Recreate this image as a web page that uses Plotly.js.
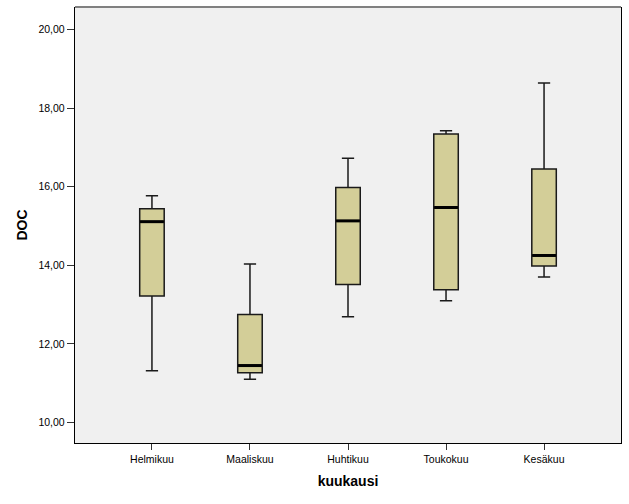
<!DOCTYPE html>
<html>
<head>
<meta charset="utf-8">
<script src="https://cdn.plot.ly/plotly-3.0.1.min.js"></script>
<style>html,body{margin:0;padding:0;background:#fff;}#chart{width:629px;height:504px;}</style>
</head>
<body>
<div id="chart"></div>
<script>
const months = ["Helmikuu", "Maaliskuu", "Huhtikuu", "Toukokuu", "Kesäkuu"];
const lowerWhisker = [11.32, 11.10, 12.69, 13.10, 13.70];
const q1Values = [13.22, 11.27, 13.51, 13.38, 13.98];
const medianValues = [15.11, 11.45, 15.13, 15.47, 14.25];
const q3Values = [15.44, 12.75, 15.98, 17.34, 16.45];
const upperWhisker = [15.77, 14.03, 16.72, 17.42, 18.64];

const fontFam = "Liberation Sans, Arial, sans-serif";

const boxTrace = {
  type: "box",
  x: months,
  q1: q1Values,
  median: medianValues,
  q3: q3Values,
  lowerfence: lowerWhisker,
  upperfence: upperWhisker,
  boxpoints: false,
  width: 0.25,
  whiskerwidth: 0.5,
  fillcolor: "#d3ce98",
  line: { color: "#1a1a1a", width: 1.5 },
  hoverinfo: "skip",
  showlegend: false
};

const medianTrace = {
  type: "scatter",
  mode: "markers",
  x: months,
  y: medianValues,
  marker: { symbol: "line-ew", size: 17, line: { color: "#000", width: 3 } },
  hoverinfo: "skip",
  showlegend: false
};

const layout = {
  width: 629,
  height: 504,
  margin: { l: 75, r: 8, t: 7, b: 61 },
  paper_bgcolor: "#ffffff",
  plot_bgcolor: "#f0f0f0",
  separators: ",.",
  font: { family: fontFam, size: 10.5, color: "#000" },
  xaxis: {
    type: "category",
    range: [-0.785, 4.785],
    showgrid: false,
    zeroline: false,
    showline: true,
    linecolor: "#000",
    linewidth: 1.2,
    ticks: "outside",
    ticklen: 6,
    tickcolor: "#333",
    tickfont: { family: fontFam, size: 10.5, color: "#000" },
    title: { text: "kuukausi", font: { family: fontFam, size: 14, color: "#000", weight: "bold" }, standoff: 12 }
  },
  yaxis: {
    range: [9.48, 20.57],
    tickvals: [10, 12, 14, 16, 18, 20],
    tickformat: ".2f",
    showgrid: false,
    zeroline: false,
    showline: true,
    mirror: true,
    linecolor: "#000",
    linewidth: 1.2,
    ticks: "outside",
    ticklen: 7,
    tickcolor: "#333",
    tickfont: { family: fontFam, size: 10.5, color: "#000" },
    title: { text: "DOC", font: { family: fontFam, size: 14, color: "#000", weight: "bold" }, standoff: 7 }
  },
  shapes: [
    { type: "line", xref: "paper", yref: "paper", x0: 0, x1: 1, y0: 1, y1: 1, line: { color: "#808080", width: 2 } }
  ]
};

Plotly.newPlot("chart", [boxTrace, medianTrace], layout, { displayModeBar: false, staticPlot: true });
</script>
</body>
</html>
